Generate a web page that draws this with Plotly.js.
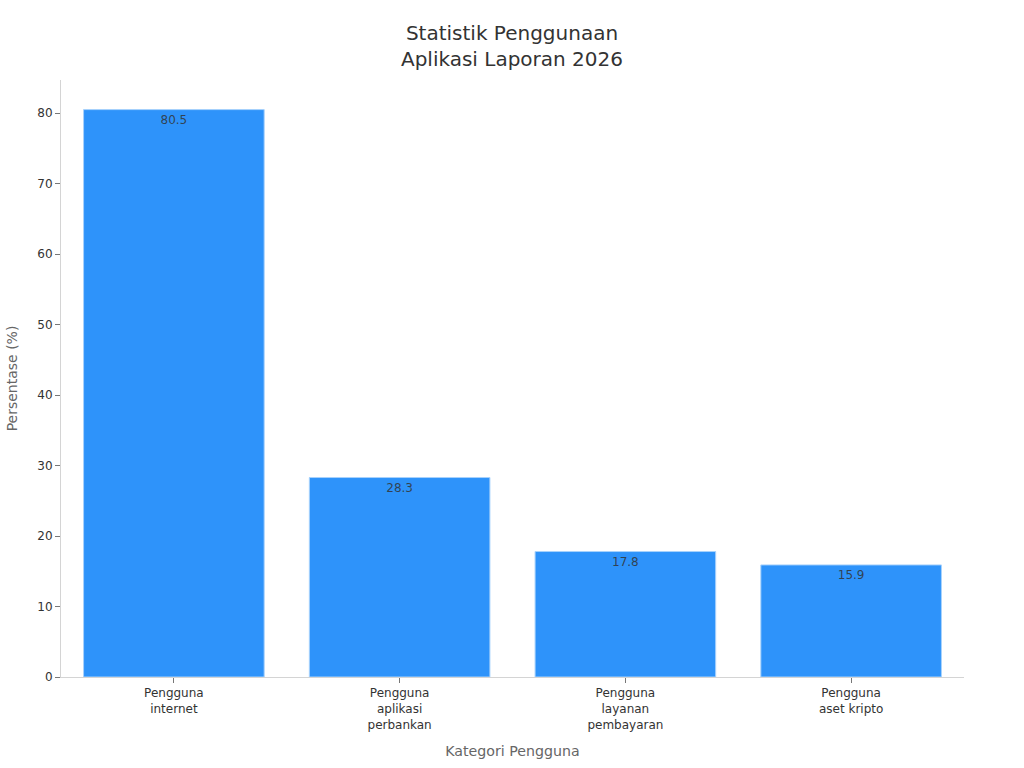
<!DOCTYPE html>
<html lang="id">

<head>
    <meta charset="utf-8">
    <title>Statistik Penggunaan Aplikasi Laporan 2026</title>
    <script src="https://cdn.plot.ly/plotly-3.0.1.min.js"></script>
    <style>
        html, body { margin: 0; padding: 0; background: #fff; }
    </style>
</head>

<body>
    <div id="plot" style="width:1024px;height:768px"></div>

    <script>
        const categories = ['Pengguna<br>internet', 'Pengguna<br>aplikasi<br>perbankan', 'Pengguna<br>layanan<br>pembayaran', 'Pengguna<br>aset kripto'];
        const values = [80.5, 28.3, 17.8, 15.9];
        const yTicks = [0, 10, 20, 30, 40, 50, 60, 70, 80];

        const fontName = 'DejaVu Sans, sans-serif';

        const bars = {
            type: 'bar',
            x: categories,
            y: values,
            width: 0.8,
            marker: { color: '#2e93fa', line: { color: '#a8d2fc', width: 1 } },
            text: values.map(v => v.toFixed(1)),
            textposition: 'inside',
            insidetextanchor: 'end',
            textangle: 0,
            textfont: { family: fontName, size: 12, color: 'rgba(51,51,51,0.85)' },
            hoverinfo: 'x+y'
        };

        const layout = {
            width: 1024,
            height: 768,
            margin: { l: 60.5, r: 60, t: 80, b: 91 },
            paper_bgcolor: '#ffffff',
            plot_bgcolor: '#ffffff',
            showlegend: false,
            font: { family: fontName, color: '#333333' },
            title: {
                text: 'Statistik Penggunaan<br>Aplikasi Laporan 2026',
                font: { family: fontName, size: 20, color: '#333333' },
                x: 0.5,
                xanchor: 'center',
                y: 0.9485,
                yanchor: 'top'
            },
            xaxis: {
                title: { text: 'Kategori Pengguna', font: { size: 14.2, color: '#666666' }, standoff: 15 },
                tickfont: { size: 12, color: '#333333' },
                ticks: 'outside',
                ticklen: 5,
                tickcolor: '#777777',
                showline: true,
                linecolor: '#d4d4d4',
                showgrid: false,
                range: [-0.5, 3.5]
            },
            yaxis: {
                title: { text: 'Persentase (%)', font: { size: 14, color: '#666666' }, standoff: 15.5 },
                tickfont: { size: 12, color: '#333333' },
                tickvals: yTicks,
                ticks: 'outside',
                ticklen: 5,
                tickcolor: '#777777',
                showline: true,
                linecolor: '#d4d4d4',
                showgrid: false,
                zeroline: false,
                range: [0, 84.7]
            }
        };

        Plotly.newPlot('plot', [bars], layout, { displayModeBar: false });
    </script>

</body>

</html>
